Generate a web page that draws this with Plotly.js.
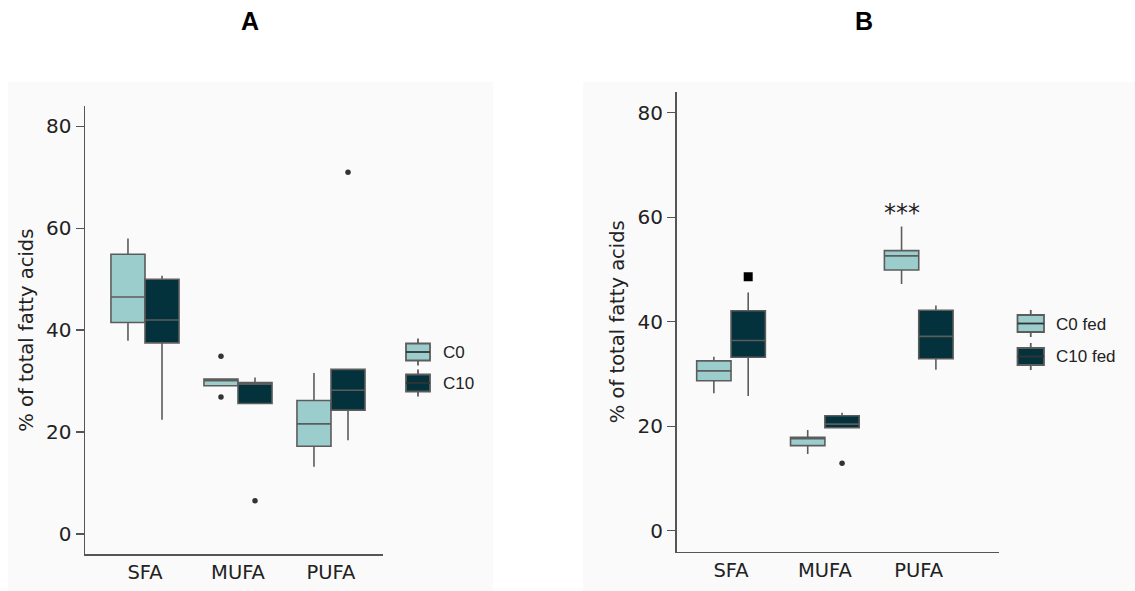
<!DOCTYPE html>
<html>
<head>
<meta charset="utf-8">
<script src="https://cdn.plot.ly/plotly-3.0.1.min.js"></script>
<style>html,body{margin:0;padding:0;background:#fff;}#chart{width:1135px;height:591px;}</style>
</head>
<body>
<div id="chart"></div>
<script>
// ---------- data ----------
const categories = ['SFA', 'MUFA', 'PUFA'];

// Panel A
const groupsA = ['C0', 'C10'];
const a_c0_lower  = [37.9, 29.0, 13.2];
const a_c0_q1     = [41.5, 29.1, 17.2];
const a_c0_median = [46.5, 30.1, 21.6];
const a_c0_q3     = [54.9, 30.4, 26.2];
const a_c0_upper  = [58.0, 30.4, 31.6];
const a_c10_lower  = [22.4, 25.6, 18.4];
const a_c10_q1     = [37.5, 25.6, 24.3];
const a_c10_median = [42.0, 29.4, 28.2];
const a_c10_q3     = [50.0, 29.7, 32.3];
const a_c10_upper  = [50.7, 30.7, 32.3];
const a_c0_outlier_cat  = ['MUFA', 'MUFA'];
const a_c0_outlier_val  = [34.9, 26.9];
const a_c10_outlier_cat = ['MUFA', 'PUFA'];
const a_c10_outlier_val = [6.5, 71.0];

// Panel B
const groupsB = ['C0 fed', 'C10 fed'];
const b_c0_lower  = [26.3, 14.7, 47.2];
const b_c0_q1     = [28.7, 16.3, 49.9];
const b_c0_median = [30.6, 17.6, 52.6];
const b_c0_q3     = [32.5, 17.9, 53.6];
const b_c0_upper  = [33.3, 19.3, 58.2];
const b_c10_lower  = [25.8, 19.7, 30.8];
const b_c10_q1     = [33.2, 19.7, 32.9];
const b_c10_median = [36.4, 20.4, 37.2];
const b_c10_q3     = [42.1, 22.0, 42.2];
const b_c10_upper  = [45.6, 22.6, 43.1];
const b_c10_outlier_cat = ['MUFA'];
const b_c10_outlier_val = [12.9];
const b_c10_extreme_cat = ['SFA'];
const b_c10_extreme_val = [48.6];
const signifCat = 'PUFA';
const signifVal = 60.8;
const signifText = '***';

const yTickVals = [0, 20, 40, 60, 80];

// ---------- style ----------
const LIGHT = '#9bcdcd';
const DARK = '#03323c';
const BOXLINE = '#5c5c5c';
const BOXW = 0.366;
const OFF = BOXW / 2;
const tickFont = {family: 'DejaVu Sans', size: 20, color: '#222'};
const catFont = {family: 'DejaVu Sans', size: 19.5, color: '#222'};
const legendFont = {family: 'Liberation Sans, Arial', size: 17, color: '#222'};

const idx = c => categories.indexOf(c);
const pos = (sign) => categories.map((c, i) => i + sign * OFF);

function boxTrace(name, sign, lo, q1, med, q3, hi, fill, xa, ya) {
  return {
    type: 'box', name: name, x: pos(sign),
    lowerfence: lo, q1: q1, median: med, q3: q3, upperfence: hi,
    width: BOXW, fillcolor: fill,
    line: {color: BOXLINE, width: 1.6},
    whiskerwidth: 0, boxpoints: false, showlegend: false,
    xaxis: xa, yaxis: ya, hoverinfo: 'y'
  };
}
function ptsTrace(cats, vals, sign, xa, ya, symbol, size, color) {
  return {
    type: 'scatter', mode: 'markers', showlegend: false,
    x: cats.map(c => idx(c) + sign * OFF), y: vals,
    marker: {symbol: symbol, size: size, color: color},
    xaxis: xa, yaxis: ya
  };
}

const data = [
  boxTrace(groupsA[0], -1, a_c0_lower, a_c0_q1, a_c0_median, a_c0_q3, a_c0_upper, LIGHT, 'x', 'y'),
  boxTrace(groupsA[1], 1, a_c10_lower, a_c10_q1, a_c10_median, a_c10_q3, a_c10_upper, DARK, 'x', 'y'),
  ptsTrace(a_c0_outlier_cat, a_c0_outlier_val, -1, 'x', 'y', 'circle', 5.5, '#333'),
  ptsTrace(a_c10_outlier_cat, a_c10_outlier_val, 1, 'x', 'y', 'circle', 5.5, '#333'),
  boxTrace(groupsB[0], -1, b_c0_lower, b_c0_q1, b_c0_median, b_c0_q3, b_c0_upper, LIGHT, 'x2', 'y2'),
  boxTrace(groupsB[1], 1, b_c10_lower, b_c10_q1, b_c10_median, b_c10_q3, b_c10_upper, DARK, 'x2', 'y2'),
  ptsTrace(b_c10_outlier_cat, b_c10_outlier_val, 1, 'x2', 'y2', 'circle', 5.5, '#333'),
  ptsTrace(b_c10_extreme_cat, b_c10_extreme_val, 1, 'x2', 'y2', 'square', 9, '#000')
];

const W = 1135, H = 591;
const px = v => v / W, py = v => (H - v) / H;

function yAxis(domain, anchor) {
  return {
    domain: domain, anchor: anchor, range: [-4, 84],
    tickvals: yTickVals, ticks: 'outside', ticklen: 8, tickwidth: 1.3, tickcolor: '#555',
    showline: true, linecolor: '#555', linewidth: 1.5, showgrid: false, zeroline: false,
    tickfont: tickFont, automargin: false,
    title: {text: '% of total fatty acids', font: {family: 'DejaVu Sans', size: 19.5, color: '#222'}, standoff: 7}
  };
}
function xAxis(domain, anchor, range) {
  return {
    domain: domain, anchor: anchor, range: range,
    tickvals: categories.map((c, i) => i), ticktext: categories,
    ticks: '', showline: true, linecolor: '#555', linewidth: 1.5,
    showgrid: false, zeroline: false, tickfont: catFont, automargin: false
  };
}

// custom legend (box glyph + label), positioned in paper space
function legendGlyph(xl, xr, yTop, yBot, fill) {
  const xm = (xl + xr) / 2, ym = (yTop + yBot) / 2;
  const ln = {color: BOXLINE, width: 1.8};
  return [
    {type: 'line', xref: 'paper', yref: 'paper', x0: px(xm), x1: px(xm), y0: py(yTop - 5), y1: py(yBot + 5), line: ln},
    {type: 'rect', xref: 'paper', yref: 'paper', x0: px(xl), x1: px(xr), y0: py(yBot), y1: py(yTop), fillcolor: fill, line: ln},
    {type: 'line', xref: 'paper', yref: 'paper', x0: px(xl), x1: px(xr), y0: py(ym), y1: py(ym), line: {color: '#333', width: 1.8}}
  ];
}
function legendLabel(text, x, y) {
  return {text: text, xref: 'paper', yref: 'paper', x: px(x), y: py(y), xanchor: 'left', yanchor: 'middle',
          showarrow: false, font: legendFont};
}

const layout = {
  width: W, height: H,
  margin: {l: 0, r: 0, t: 0, b: 0},
  paper_bgcolor: '#ffffff', plot_bgcolor: 'rgba(0,0,0,0)',
  showlegend: false,
  xaxis: xAxis([px(85), px(382.7)], 'y', [-0.645, 2.556]),
  yaxis: yAxis([py(554.3), py(106)], 'x'),
  xaxis2: xAxis([px(676.5), px(998.7)], 'y2', [-0.581, 2.852]),
  yaxis2: yAxis([py(551.7), py(91.7)], 'x2'),
  shapes: [
    {type: 'rect', xref: 'paper', yref: 'paper', x0: px(8), x1: px(493), y0: 0, y1: py(82),
     fillcolor: '#fafafa', line: {width: 0}, layer: 'below'},
    {type: 'rect', xref: 'paper', yref: 'paper', x0: px(583), x1: 1, y0: 0, y1: py(82),
     fillcolor: '#fafafa', line: {width: 0}, layer: 'below'}
  ].concat(
    legendGlyph(406, 430, 343.5, 360.5, LIGHT),
    legendGlyph(406, 430, 374.5, 391.5, DARK),
    legendGlyph(1017.5, 1044, 315, 332, LIGHT),
    legendGlyph(1017.5, 1044, 348, 365, DARK)
  ),
  annotations: [
    {text: '<b>A</b>', xref: 'paper', yref: 'paper', x: px(250), y: py(21), xanchor: 'center', yanchor: 'middle', showarrow: false,
     font: {family: 'Liberation Sans, Arial', size: 25, color: '#000'}},
    {text: '<b>B</b>', xref: 'paper', yref: 'paper', x: px(864), y: py(21), xanchor: 'center', yanchor: 'middle', showarrow: false,
     font: {family: 'Liberation Sans, Arial', size: 25, color: '#000'}},
    {text: signifText, xref: 'x2', yref: 'y2', x: idx(signifCat) - OFF, y: signifVal, showarrow: false,
     font: {family: 'DejaVu Sans', size: 24, color: '#222'}},
    legendLabel(groupsA[0], 441, 352.3),
    legendLabel(groupsA[1], 441, 383.3),
    legendLabel(groupsB[0], 1054, 324.3),
    legendLabel(groupsB[1], 1054, 356.7)
  ]
};

Plotly.newPlot('chart', data, layout, {displayModeBar: false, staticPlot: true});
</script>
</body>
</html>
